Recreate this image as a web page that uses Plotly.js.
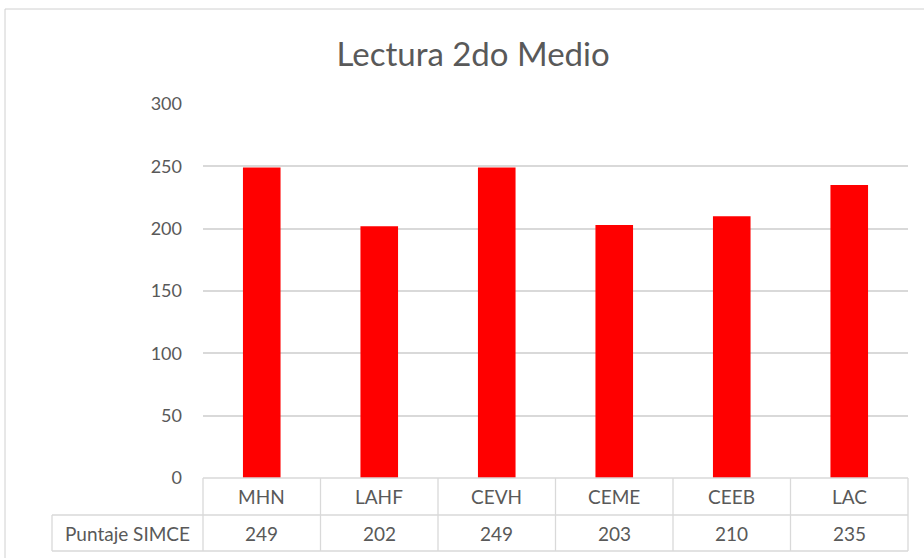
<!DOCTYPE html>
<html>
<head>
<meta charset="utf-8">
<script src="https://cdn.plot.ly/plotly-3.0.1.min.js"></script>
<style>html,body{margin:0;padding:0;background:#fff;}#chart{width:924px;height:558px;}</style>
</head>
<body>
<div id="chart"></div>
<script>
const categories = ["MHN", "LAHF", "CEVH", "CEME", "CEEB", "LAC"];
const scores = [249, 202, 249, 203, 210, 235];
const seriesName = "Puntaje SIMCE";
const chartTitle = "Lectura 2do Medio";
const yTicks = [0, 50, 100, 150, 200, 250, 300];

const W = 924, H = 558;
const mL = 203, mR = 16, mT = 104, mB = 80;
const pw = W - mL - mR, ph = H - mT - mB;
const px = x => (x - mL) / pw;          // pixel -> paper x
const py = y => (H - mB - y) / ph;      // pixel -> paper y

const grid = "#d9d9d9";
const txt = "#595959";
const font = "Lato, 'Open Sans', sans-serif";

const rowTop = 478, rowMid = 515, rowBot = 551, tableLeft = 52;
const shapes = [];
const line = (x0, y0, x1, y1, color, w) => shapes.push({type: "line", xref: "paper", yref: "paper",
  x0: px(x0), y0: py(y0), x1: px(x1), y1: py(y1), line: {color: color || grid, width: w || 1.3}});
// outer chart border
line(5, 9, 930, 9, "#d0d0d0", 1);
line(5, 9, 5, 560, "#d0d0d0", 1);
// table
line(mL, rowTop, W - mR, rowTop);
line(tableLeft, rowMid, W - mR, rowMid);
line(tableLeft, rowBot, W - mR, rowBot);
line(tableLeft, rowMid, tableLeft, rowBot);
for (let i = 0; i <= categories.length; i++) {
  const x = mL + i * pw / categories.length;
  line(x, rowTop, x, rowBot);
}

const cellFont = {family: font, size: 19, color: txt};
const annotations = [];
categories.forEach((c, i) => {
  annotations.push({x: c, xref: "x", y: py((rowTop + rowMid) / 2), yref: "paper", text: c,
    showarrow: false, font: cellFont, xanchor: "center", yanchor: "middle"});
  annotations.push({x: c, xref: "x", y: py((rowMid + rowBot) / 2), yref: "paper", text: String(scores[i]),
    showarrow: false, font: cellFont, xanchor: "center", yanchor: "middle"});
});
annotations.push({x: px((tableLeft + mL) / 2), xref: "paper", y: py((rowMid + rowBot) / 2), yref: "paper",
  text: seriesName, showarrow: false, font: cellFont, xanchor: "center", yanchor: "middle"});

const data = [{
  type: "bar", x: categories, y: scores, name: seriesName,
  marker: {color: "#ff0000"}, width: 0.32, hoverinfo: "x+y"
}];

const layout = {
  width: W, height: H,
  margin: {l: mL, r: mR, t: mT, b: mB},
  paper_bgcolor: "#fff", plot_bgcolor: "#fff",
  showlegend: false,
  title: {text: chartTitle, font: {family: font, size: 33, color: txt}, x: 0.512, xanchor: "center", y: 1 - 54 / H, yanchor: "middle"},
  xaxis: {showticklabels: false, showgrid: false, zeroline: false, showline: false, ticks: ""},
  yaxis: {range: [0, 300], tickvals: yTicks, showgrid: true, gridcolor: grid, gridwidth: 2,
    zeroline: false, showline: false, ticks: "", ticklabelstandoff: 20,
    tickfont: {family: font, size: 18, color: txt}},
  shapes: shapes,
  annotations: annotations,
  bargap: 0.68
};

Plotly.newPlot("chart", data, layout, {displayModeBar: false, staticPlot: true});
</script>
</body>
</html>
